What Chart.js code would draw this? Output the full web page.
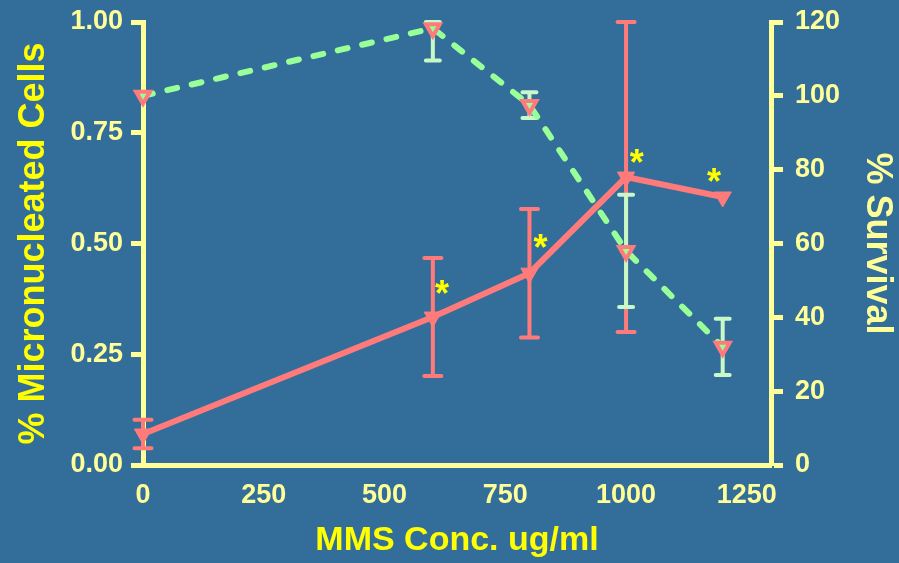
<!DOCTYPE html>
<html><head><meta charset="utf-8">
<script src="https://cdn.jsdelivr.net/npm/chart.js@4.4.1/dist/chart.umd.min.js"></script>
<style>html,body{margin:0;padding:0;background:#336E9A;overflow:hidden;}</style>
</head><body>
<canvas id="c" width="899" height="563" style="display:block;width:899px;height:563px"></canvas>
<script>
// ---- data ----
const concentrations = [0, 600, 800, 1000, 1200];            // MMS conc. ug/ml
const micronucleated = [0.07, 0.334, 0.433, 0.65, 0.605];    // % micronucleated cells (left axis)
const micronucleatedErr = [0.032, 0.133, 0.145, 0.35, 0];
const survival = [100, 118.3, 97.5, 58, 32];                 // % survival (right axis)
const survivalErr = [0, 8.7, 3.5, 15.2, 7.6];
const starConc = [619, 823, 1022, 1182];                     // significance asterisks (data coords)
const starLevel = [0.406, 0.511, 0.702, 0.66];
const xTickValues = [0, 250, 500, 750, 1000, 1250];
const leftTickValues = [0, 0.25, 0.5, 0.75, 1];
const rightTickValues = [0, 20, 40, 60, 80, 100, 120];

// ---- styles ----
const BG = '#336E9A';
const AXIS = '#FFFF99';
const TITLE = '#FFFF00';
const RED = '#FF7B7B';
const GREEN = '#99FF99';
const PALE_GREEN = '#C8F8C8';
const FONT = '"Liberation Sans", Arial, sans-serif';

const bgPlugin = {
  id: 'bg',
  beforeDraw(chart) {
    const ctx = chart.ctx;
    ctx.save(); ctx.fillStyle = BG; ctx.fillRect(0, 0, chart.width, chart.height); ctx.restore();
  }
};

const errorBars = {
  id: 'errorBars',
  beforeDatasetsDraw(chart) {
    const {ctx, scales} = chart;
    const xs = scales.x;
    const draw = (vals, errs, ys, color, cap, w) => {
      ctx.save();
      ctx.strokeStyle = color; ctx.lineWidth = w; ctx.lineCap = 'round';
      vals.forEach((v, i) => {
        const e = errs[i];
        if (!e) return;
        const px = xs.getPixelForValue(concentrations[i]);
        const y1 = ys.getPixelForValue(Math.min(v + e, ys.max));
        const y2 = ys.getPixelForValue(Math.max(v - e, ys.min));
        ctx.beginPath();
        ctx.moveTo(px, y1); ctx.lineTo(px, y2);
        ctx.moveTo(px - cap / 2, y1); ctx.lineTo(px + cap / 2, y1);
        ctx.moveTo(px - cap / 2, y2); ctx.lineTo(px + cap / 2, y2);
        ctx.stroke();
      });
      ctx.restore();
    };
    draw(micronucleated, micronucleatedErr, scales.yL, RED, 17, 4);
    draw(survival, survivalErr, scales.yR, PALE_GREEN, 14, 4);
  },
  afterDatasetsDraw(chart) {
    const {ctx, scales} = chart;
    ctx.save();
    ctx.fillStyle = TITLE;
    ctx.font = 'bold 36px ' + FONT;
    ctx.textAlign = 'center';
    ctx.textBaseline = 'alphabetic';
    starConc.forEach((c, i) => {
      const px = scales.x.getPixelForValue(c);
      const py = scales.yL.getPixelForValue(starLevel[i]);
      ctx.fillText('*', px, py + 21);
    });
    ctx.restore();
  }
};

const tickFont = {family: FONT, size: 27, weight: 'bold'};

new Chart(document.getElementById('c'), {
  type: 'line',
  data: {
    datasets: [
      {
        label: '% Survival',
        data: concentrations.map((c, i) => ({x: c, y: survival[i]})),
        yAxisID: 'yR',
        borderColor: GREEN,
        borderWidth: 6,
        borderDash: [10, 15],
        borderCapStyle: 'round',
        pointStyle: 'triangle',
        rotation: 180,
        pointRadius: 8,
        pointBorderWidth: 4,
        pointBorderColor: RED,
        pointBackgroundColor: GREEN,
        tension: 0,
        clip: false,
        order: 0
      },
      {
        label: '% Micronucleated Cells',
        data: concentrations.map((c, i) => ({x: c, y: micronucleated[i]})),
        yAxisID: 'yL',
        borderColor: RED,
        borderWidth: 6,
        pointStyle: 'triangle',
        rotation: 180,
        pointRadius: 10,
        pointBorderWidth: 1,
        pointBorderColor: RED,
        pointBackgroundColor: RED,
        tension: 0,
        clip: false,
        order: 1
      }
    ]
  },
  options: {
    responsive: false,
    animation: false,
    devicePixelRatio: 1,
    layout: {padding: {top: 22, left: 0, right: 0, bottom: 0}},
    plugins: {legend: {display: false}, tooltip: {enabled: false}},
    scales: {
      x: {
        type: 'linear', position: 'bottom', min: 0, max: 1300, z: 1,
        afterBuildTicks: s => { s.ticks = xTickValues.map(v => ({value: v})); },
        afterFit: s => { s.height = 98; s.paddingLeft = 0; s.paddingRight = 0; },
        grid: {display: false},
        border: {display: true, color: AXIS, width: 5},
        ticks: {color: AXIS, font: tickFont, padding: 6, maxRotation: 0, autoSkip: false,
                callback: v => String(v)},
        title: {display: true, text: 'MMS Conc. ug/ml', color: TITLE,
                font: {family: FONT, size: 34, weight: 'bold'}, padding: {top: 0, bottom: 2}}
      },
      yL: {
        type: 'linear', position: 'left', min: 0, max: 1, z: 1,
        afterBuildTicks: s => { s.ticks = leftTickValues.map(v => ({value: v})); },
        afterFit: s => { s.width = 143; s.paddingTop = 0; s.paddingBottom = 0; },
        grid: {display: true, drawOnChartArea: false, drawTicks: true, tickLength: 12,
               tickWidth: 5, tickColor: AXIS},
        border: {display: true, color: AXIS, width: 5},
        ticks: {color: AXIS, font: tickFont, padding: 8, callback: v => Number(v).toFixed(2)},
        title: {display: true, text: '% Micronucleated Cells', color: TITLE,
                font: {family: FONT, size: 36, weight: 'bold'}, padding: {top: 12, bottom: 0}}
      },
      yR: {
        type: 'linear', position: 'right', min: 0, max: 120, z: 1,
        afterBuildTicks: s => { s.ticks = rightTickValues.map(v => ({value: v})); },
        afterFit: s => { s.width = 128; s.paddingTop = 0; s.paddingBottom = 0; },
        grid: {display: true, drawOnChartArea: false, drawTicks: true, tickLength: 12,
               tickWidth: 5, tickColor: AXIS},
        border: {display: true, color: AXIS, width: 5},
        ticks: {color: AXIS, font: tickFont, padding: 12, callback: v => String(v)},
        title: {display: true, text: '% Survival', color: AXIS,
                font: {family: FONT, size: 36, weight: 'bold'}, padding: {top: 0, bottom: 0}}
      }
    }
  },
  plugins: [bgPlugin, errorBars]
});
</script>
</body></html>
